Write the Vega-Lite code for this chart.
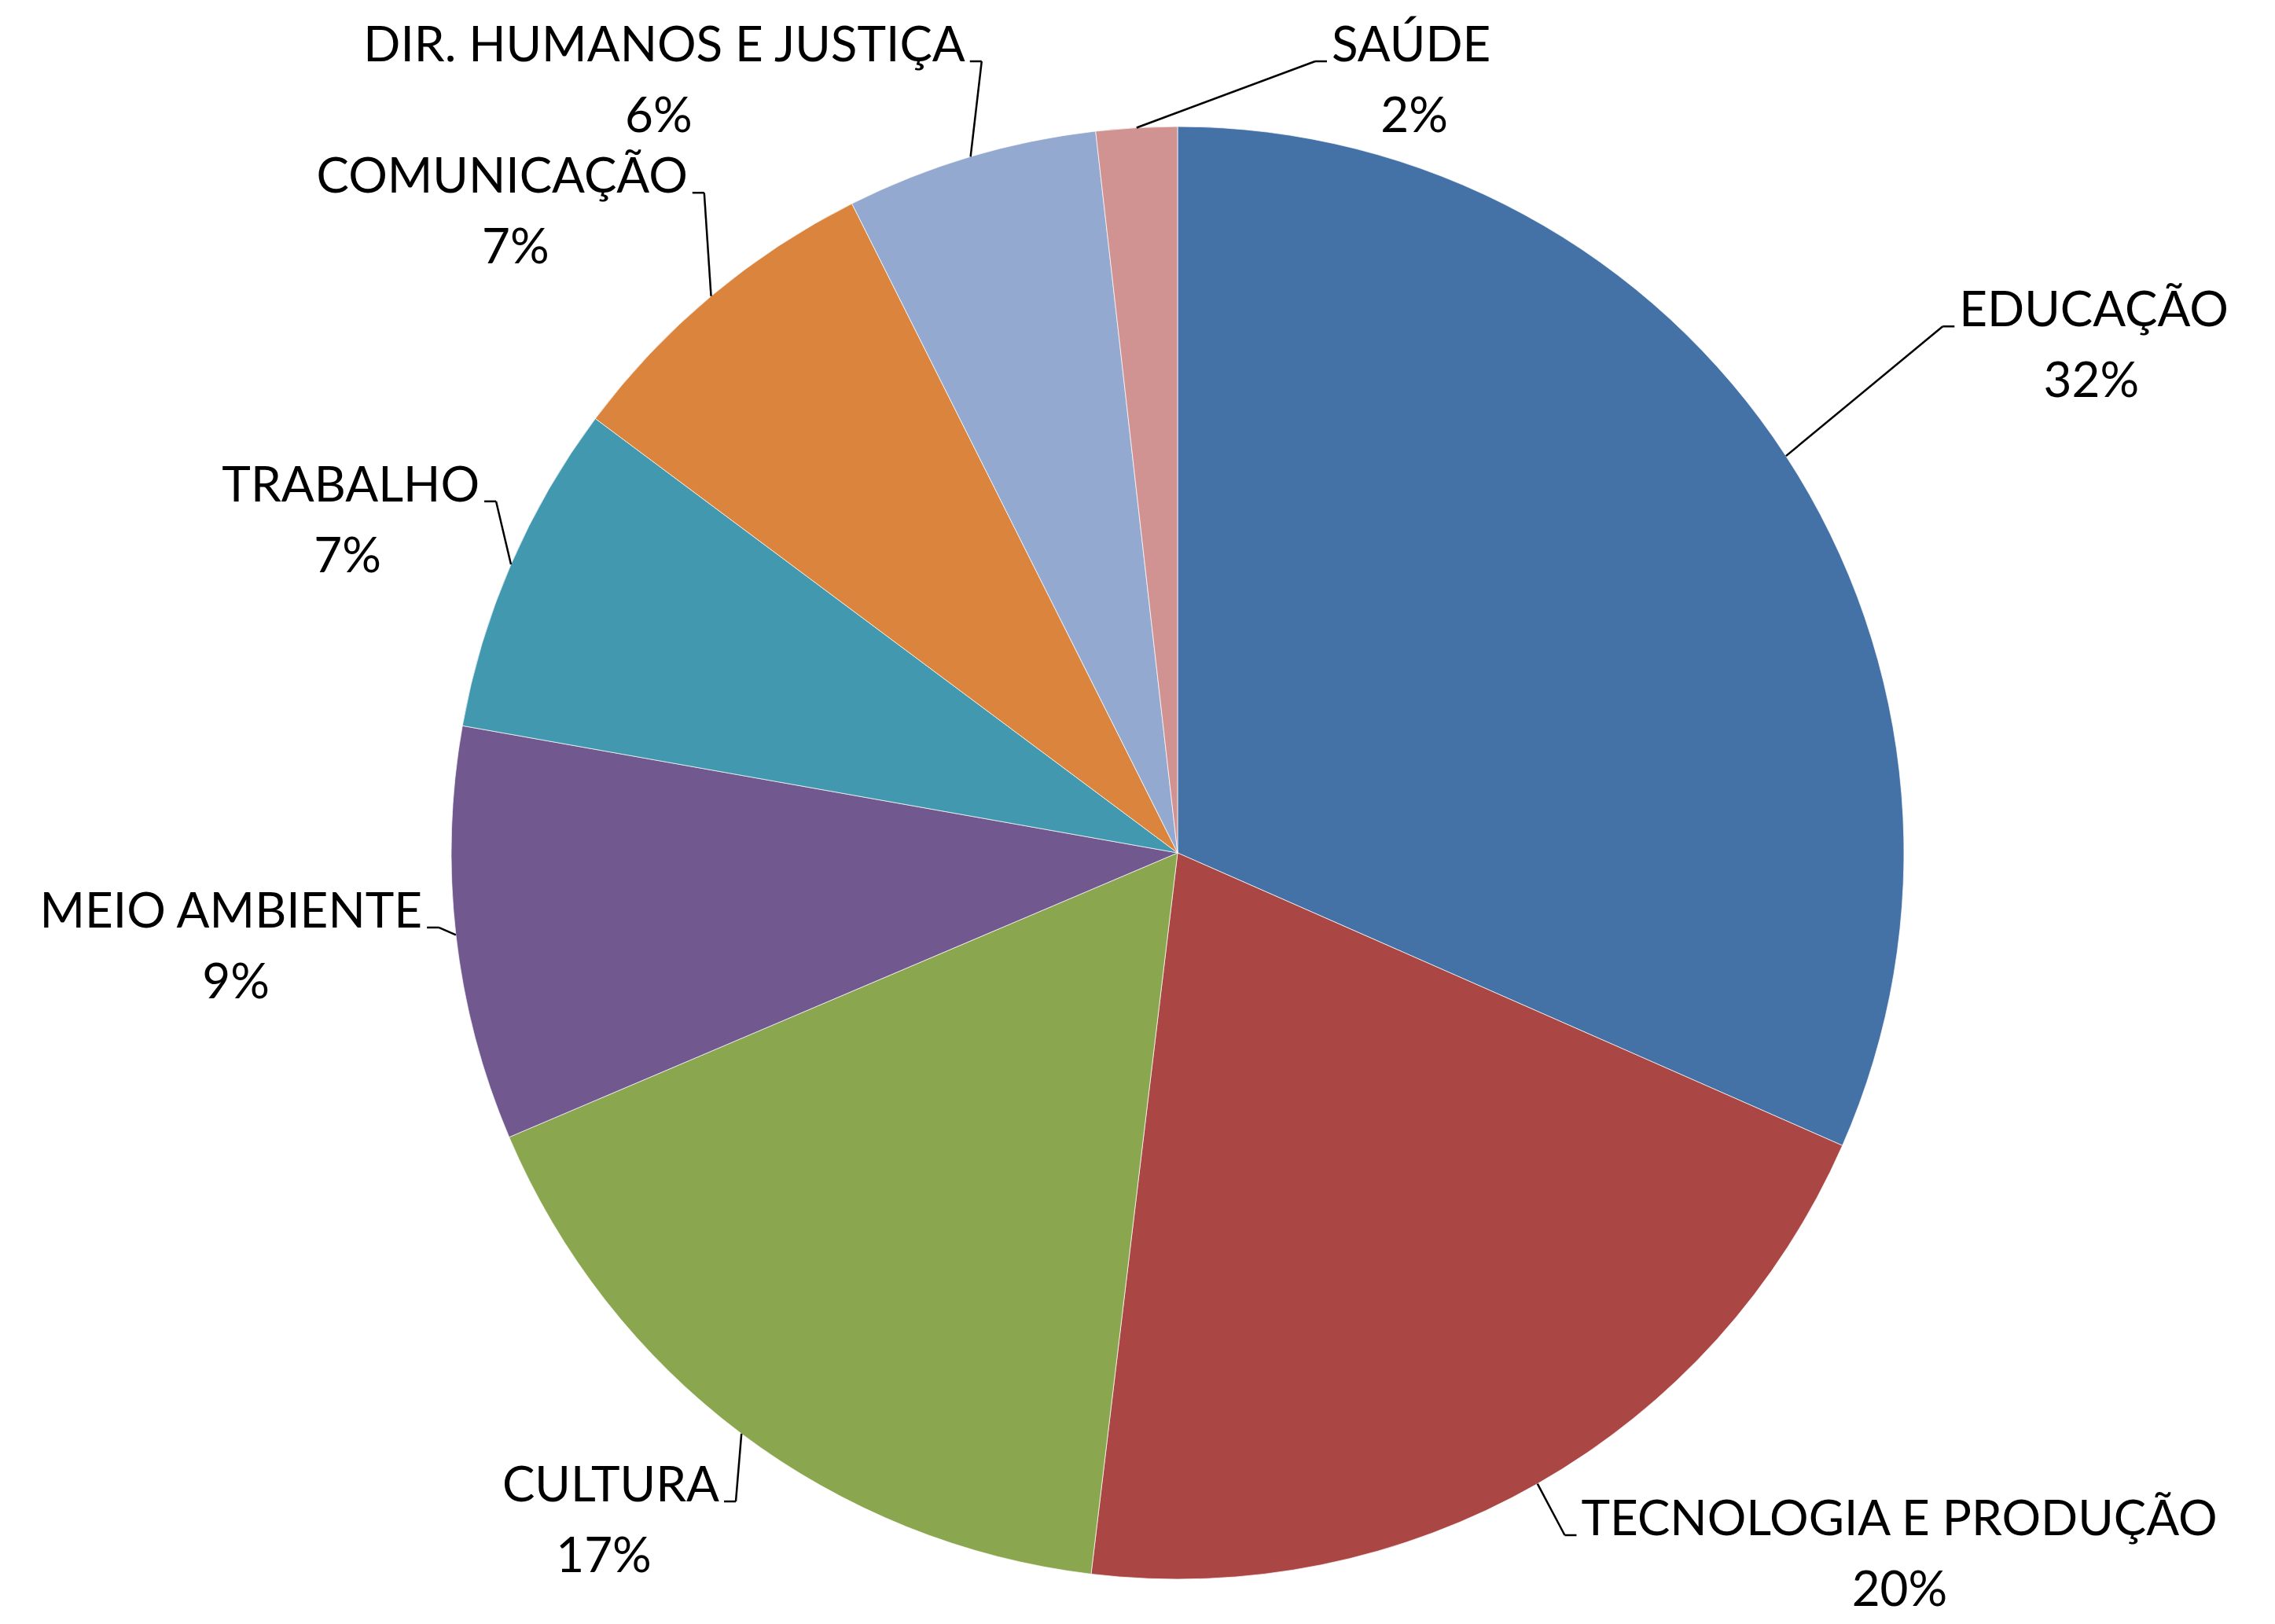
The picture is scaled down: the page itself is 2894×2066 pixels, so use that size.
{
  "$schema": "https://vega.github.io/schema/vega-lite/v6.json",
  "width": 2794,
  "height": 1962,
  "autosize": {"type": "none"},
  "padding": {"left": 101, "top": 104, "right": 0, "bottom": 0},
  "background": "white",
  "config": {"view": {"stroke": null}, "text": {"font": "Lato", "fontSize": 62, "color": "black"}},
  "data": {"values": [
    {"area": "EDUCAÇÃO", "percentual": 31.6},
    {"area": "TECNOLOGIA E PRODUÇÃO", "percentual": 20.3},
    {"area": "CULTURA", "percentual": 16.7},
    {"area": "MEIO AMBIENTE", "percentual": 9.2},
    {"area": "TRABALHO", "percentual": 7.4},
    {"area": "COMUNICAÇÃO", "percentual": 7.4},
    {"area": "DIR. HUMANOS E JUSTIÇA", "percentual": 5.6},
    {"area": "SAÚDE", "percentual": 1.8}
  ]},
  "transform": [
    {"window": [{"op": "row_number", "as": "idx"}]},
    {"joinaggregate": [{"op": "sum", "field": "percentual", "as": "total"}]},
    {"stack": "percentual", "groupby": [], "sort": [{"field": "idx", "order": "ascending"}], "as": ["s0", "s1"]},
    {"calculate": "PI * (datum.s0 + datum.s1) / datum.total", "as": "a"},
    {"calculate": "format(datum.percentual / datum.total, '.0%')", "as": "rotulo"},
    {"calculate": "sin(datum.a) > -0.1 ? 1 : -1", "as": "side"},
    {"calculate": "924 * sin(datum.a)", "as": "ex"},
    {"calculate": "-924 * cos(datum.a)", "as": "ey"},
    {"calculate": "-(datum.side > 0 ? 1180 : 1063) * cos(datum.a) - 25", "as": "yraw"},
    {"calculate": "datum.yraw > 868 ? 868 / datum.yraw : (datum.yraw < -1007 ? -1007 / datum.yraw : 1)", "as": "k"},
    {"calculate": "datum.yraw * datum.k", "as": "ly"},
    {"calculate": "datum.side * max(abs(sin(datum.a)) * (datum.side > 0 ? 1180 : 961) * datum.k, 190)", "as": "lx"},
    {"calculate": "datum.lx - datum.side * 15", "as": "kx"},
    {"calculate": "datum.lx + datum.side * 6", "as": "tx"},
    {"calculate": "length(replace(datum.area, /[^ .I]/g, ''))", "as": "estreitos"},
    {"calculate": "(length(datum.area) - datum.estreitos) * 42 + datum.estreitos * 18", "as": "largura"},
    {"calculate": "datum.lx + datum.side * (6 + datum.largura / 2)", "as": "px"}
  ],
  "layer": [
    {
      "mark": {"type": "arc", "outerRadius": 924, "stroke": "#ffffff", "strokeWidth": 1, "strokeOpacity": 0.7},
      "encoding": {
        "theta": {"field": "percentual", "type": "quantitative", "stack": true},
        "order": {"field": "idx", "type": "quantitative", "sort": "ascending"},
        "color": {
          "field": "area",
          "type": "nominal",
          "legend": null,
          "scale": {
            "domain": ["EDUCAÇÃO", "TECNOLOGIA E PRODUÇÃO", "CULTURA", "MEIO AMBIENTE", "TRABALHO", "COMUNICAÇÃO", "DIR. HUMANOS E JUSTIÇA", "SAÚDE"],
            "range": ["#4572A6", "#AA4644", "#8AA64F", "#71588F", "#4298AF", "#DB843D", "#94A9CF", "#D19392"]
          }
        }
      }
    },
    {
      "mark": {"type": "rule", "color": "black", "strokeWidth": 2.5},
      "encoding": {
        "x": {"field": "ex", "type": "quantitative", "scale": {"domain": [-1397, 1397], "nice": false, "zero": false}, "axis": null},
        "y": {"field": "ey", "type": "quantitative", "scale": {"domain": [-981, 981], "reverse": true, "nice": false, "zero": false}, "axis": null},
        "x2": {"field": "kx"},
        "y2": {"field": "ly"}
      }
    },
    {
      "mark": {"type": "rule", "color": "black", "strokeWidth": 2.5},
      "encoding": {
        "x": {"field": "kx", "type": "quantitative"},
        "y": {"field": "ly", "type": "quantitative"},
        "x2": {"field": "lx"},
        "y2": {"field": "ly"}
      }
    },
    {
      "transform": [{"filter": "datum.side > 0"}],
      "mark": {"type": "text", "align": "left", "baseline": "alphabetic"},
      "encoding": {
        "x": {"field": "tx", "type": "quantitative"},
        "y": {"field": "ly", "type": "quantitative"},
        "text": {"field": "area", "type": "nominal"}
      }
    },
    {
      "transform": [{"filter": "datum.side < 0"}],
      "mark": {"type": "text", "align": "right", "baseline": "alphabetic"},
      "encoding": {
        "x": {"field": "tx", "type": "quantitative"},
        "y": {"field": "ly", "type": "quantitative"},
        "text": {"field": "area", "type": "nominal"}
      }
    },
    {
      "mark": {"type": "text", "align": "center", "baseline": "alphabetic", "dy": 90},
      "encoding": {
        "x": {"field": "px", "type": "quantitative"},
        "y": {"field": "ly", "type": "quantitative"},
        "text": {"field": "rotulo", "type": "nominal"}
      }
    }
  ]
}
